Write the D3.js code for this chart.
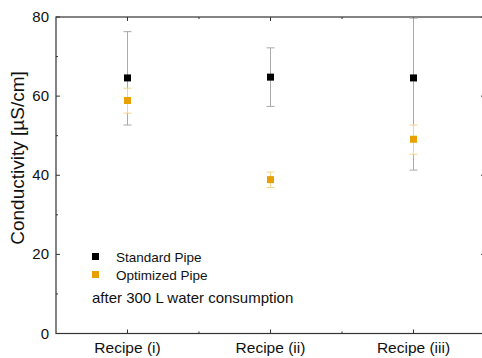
<!DOCTYPE html>
<html>
<head>
<meta charset="utf-8">
<script src="https://cdn.jsdelivr.net/npm/d3@7"></script>
<style>
  body { margin: 0; background: #fff; }
  svg { font-family: "Liberation Sans", Arial, sans-serif; }
</style>
</head>
<body>
<svg id="root" width="482" height="358"></svg>
<script>
const categories = ['Recipe (i)', 'Recipe (ii)', 'Recipe (iii)'];
const standardMean = [64.6, 64.8, 64.6];
const standardLow = [52.7, 57.4, 41.3];
const standardHigh = [76.3, 72.2, 79.7];
const optimizedMean = [58.9, 38.9, 49.1];
const optimizedLow = [55.7, 36.9, 45.3];
const optimizedHigh = [62.0, 40.8, 52.7];
const yTicks = [0, 20, 40, 60, 80];
const yMinor = [10, 30, 50, 70];

const margin = { top: 17, left: 56, right: -3, bottom: 24.5 };
const width = 482 - margin.left - margin.right;
const height = 358 - margin.top - margin.bottom;

const svg = d3.select('#root');
const chart = svg.append('g')
    .attr('transform', `translate(${margin.left}, ${margin.top})`);

const xScale = d3.scaleLinear().domain([0, 3]).range([0, width]);
const yScale = d3.scaleLinear().domain([0, 80]).range([height, 0]);

const axisColor = '#333';

// frame
chart.append('rect')
    .attr('width', width).attr('height', height)
    .attr('fill', 'none').attr('stroke', axisColor).attr('stroke-width', 1.2);

// y ticks (inward) left and right
yTicks.forEach(t => {
    chart.append('line').attr('x1', 0).attr('x2', 4)
        .attr('y1', yScale(t)).attr('y2', yScale(t)).attr('stroke', axisColor);
    chart.append('line').attr('x1', width).attr('x2', width - 4)
        .attr('y1', yScale(t)).attr('y2', yScale(t)).attr('stroke', axisColor);
    chart.append('text')
        .attr('x', -7).attr('y', yScale(t) + 5)
        .attr('text-anchor', 'end').attr('font-size', 15).attr('fill', '#111')
        .text(t);
});
yMinor.forEach(t => {
    chart.append('line').attr('x1', 0).attr('x2', 2)
        .attr('y1', yScale(t)).attr('y2', yScale(t)).attr('stroke', axisColor);
    chart.append('line').attr('x1', width).attr('x2', width - 2)
        .attr('y1', yScale(t)).attr('y2', yScale(t)).attr('stroke', axisColor);
});

// x ticks
categories.forEach((c, i) => {
    const x = xScale(i + 0.5);
    chart.append('line').attr('x1', x).attr('x2', x)
        .attr('y1', height).attr('y2', height - 4).attr('stroke', axisColor);
    chart.append('line').attr('x1', x).attr('x2', x)
        .attr('y1', 0).attr('y2', 4).attr('stroke', axisColor);
    chart.append('text')
        .attr('x', x).attr('y', height + 19)
        .attr('text-anchor', 'middle').attr('font-size', 15.5).attr('fill', '#111')
        .text(c);
});
[1, 2].forEach(v => {
    chart.append('line').attr('x1', xScale(v)).attr('x2', xScale(v))
        .attr('y1', height).attr('y2', height - 2).attr('stroke', axisColor);
    chart.append('line').attr('x1', xScale(v)).attr('x2', xScale(v))
        .attr('y1', 0).attr('y2', 2).attr('stroke', axisColor);
});

// y title
svg.append('text')
    .attr('transform', 'translate(24, 158) rotate(-90)')
    .attr('text-anchor', 'middle').attr('font-size', 19).attr('fill', '#111')
    .text('Conductivity [µS/cm]');

function drawSeries(mean, low, high, color, barColor) {
    const g = chart.append('g');
    mean.forEach((m, i) => {
        const x = xScale(i + 0.5);
        g.append('line').attr('x1', x).attr('x2', x)
            .attr('y1', yScale(low[i])).attr('y2', yScale(high[i]))
            .attr('stroke', barColor).attr('stroke-width', 1);
        [low[i], high[i]].forEach(v => {
            g.append('line').attr('x1', x - 4).attr('x2', x + 4)
                .attr('y1', yScale(v)).attr('y2', yScale(v))
                .attr('stroke', barColor).attr('stroke-width', 1);
        });
    });
    g.selectAll('rect.pt').data(mean).enter().append('rect')
        .attr('class', 'pt')
        .attr('x', (d, i) => xScale(i + 0.5) - 3.5)
        .attr('y', d => yScale(d) - 3.5)
        .attr('width', 7).attr('height', 7)
        .attr('fill', color);
}

drawSeries(standardMean, standardLow, standardHigh, '#000', '#aaa');
drawSeries(optimizedMean, optimizedLow, optimizedHigh, '#e8a000', '#f6d58a');

// legend
const legend = svg.append('g');
legend.append('rect').attr('x', 92).attr('y', 253).attr('width', 7).attr('height', 7).attr('fill', '#000');
legend.append('rect').attr('x', 92).attr('y', 271).attr('width', 7).attr('height', 7).attr('fill', '#e8a000');
legend.append('text').attr('x', 116).attr('y', 262).attr('font-size', 13.5).attr('fill', '#111').text('Standard Pipe');
legend.append('text').attr('x', 116).attr('y', 280).attr('font-size', 13.5).attr('fill', '#111').text('Optimized Pipe');
legend.append('text').attr('x', 92).attr('y', 303).attr('font-size', 15).attr('fill', '#111').text('after 300 L water consumption');
</script>
</body>
</html>
